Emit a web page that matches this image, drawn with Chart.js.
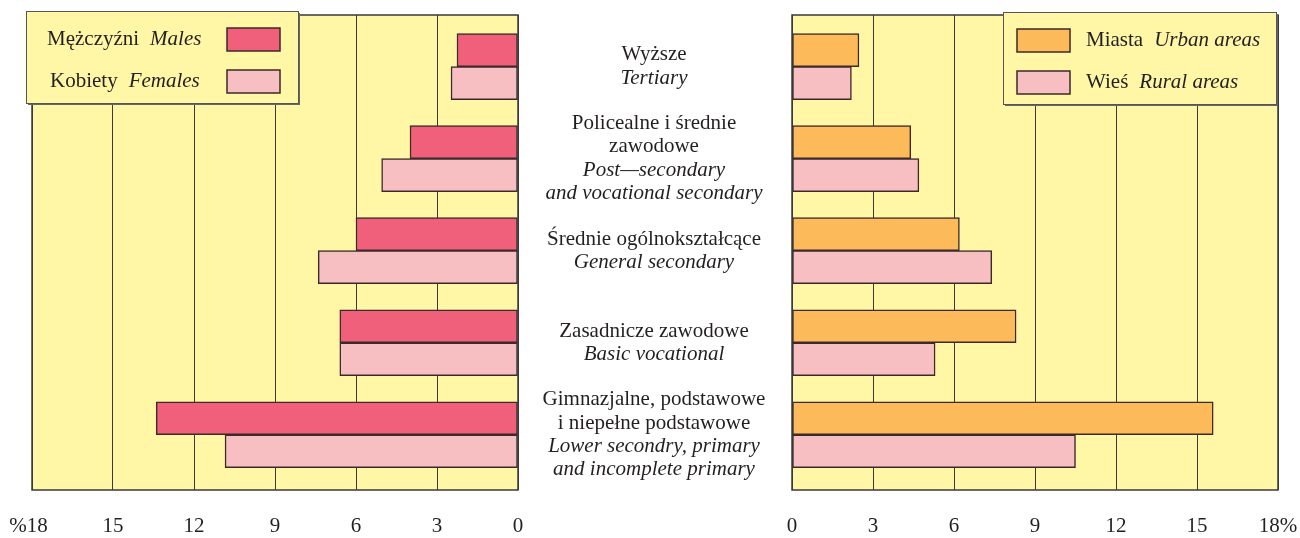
<!DOCTYPE html>
<html><head><meta charset="utf-8">
<script src="https://cdn.jsdelivr.net/npm/chart.js@4.4.0/dist/chart.umd.min.js"></script>
<style>
html,body{margin:0;padding:0;background:#fff;}
#wrap{position:relative;width:1300px;height:538px;overflow:hidden;}
#cl{position:absolute;left:0;top:0;}
#cr{position:absolute;left:770px;top:0;}
</style></head><body>
<div id="wrap">
<canvas id="cl" width="770" height="538"></canvas>
<canvas id="cr" width="530" height="538"></canvas>
</div>
<script>
// ---- data ----
const categoriesPL = [["Wyższe"], ["Policealne i średnie", "zawodowe"], ["Średnie ogólnokształcące"], ["Zasadnicze zawodowe"], ["Gimnazjalne, podstawowe", "i niepełne podstawowe"]];
const categoriesEN = [["Tertiary"], ["Post\u2014secondary", "and vocational secondary"], ["General secondary"], ["Basic vocational"], ["Lower secondry, primary", "and incomplete primary"]];
const males   = [2.26, 4.0, 6.0, 6.6, 13.4];
const females = [2.48, 5.05, 7.4, 6.6, 10.85];
const urban   = [2.48, 4.4, 6.2, 8.3, 15.6];
const rural   = [2.2, 4.7, 7.4, 5.3, 10.5];
const leftLegendPL = ["Mężczyźni", "Kobiety"];
const leftLegendEN = ["Males", "Females"];
const rightLegendPL = ["Miasta", "Wieś"];
const rightLegendEN = ["Urban areas", "Rural areas"];
const tickValues = [0, 3, 6, 9, 12, 15, 18];
const leftTickLabels  = ["0", "3", "6", "9", "12", "15", "%18\u2004"];
const rightTickLabels = ["0", "3", "6", "9", "12", "15", "18%"];

// ---- style ----
const BG = '#FFF6A6';
const TEXT = '#231f20';
const LINE = '#3a3a3a';
const COL_M = '#F0607A', COL_F = '#F8BFC2', COL_U = '#FDBA5A', COL_R = '#F8BFC2';
const SERIF = '"Liberation Serif", "Times New Roman", serif';
const FS = 21;

function pts(arr){ return arr.map((v,i)=>({x:v, y:i})); }

const areaPlugin = {
  id:'area',
  beforeDraw(chart){
    const a = chart.chartArea, c = chart.ctx;
    c.save(); c.fillStyle = BG; c.fillRect(a.left, a.top, a.right-a.left, a.bottom-a.top); c.restore();
  },
  afterDatasetsDraw(chart){
    const a = chart.chartArea, c = chart.ctx;
    c.save(); c.strokeStyle = LINE; c.lineWidth = 1.5;
    c.strokeRect(a.left, a.top, a.right-a.left, a.bottom-a.top); c.restore();
  }
};

function drawLegend(c, box, items){
  c.save();
  c.fillStyle = '#666';
  c.fillRect(box.x+2, box.y+2, box.w, box.h);
  c.fillStyle = BG;
  c.fillRect(box.x, box.y, box.w, box.h);
  c.strokeStyle = '#555'; c.lineWidth = 1;
  c.strokeRect(box.x+0.5, box.y+0.5, box.w, box.h);
  c.textBaseline = 'middle';
  items.forEach((it, k) => {
    const cy = box.y + 28 + k*42;
    c.fillStyle = it.color;
    c.fillRect(it.sx, cy-11, 53, 23);
    c.strokeStyle = '#3a2a2a'; c.lineWidth = 1.5;
    c.strokeRect(it.sx, cy-11, 53, 23);
    c.fillStyle = TEXT;
    c.font = FS + 'px ' + SERIF;
    c.textAlign = 'left';
    c.fillText(it.pl, it.tx, cy);
    const w = c.measureText(it.pl).width + 11;
    c.font = 'italic ' + FS + 'px ' + SERIF;
    c.fillText(it.en, it.tx + w, cy);
  });
  c.restore();
}

const leftExtras = {
  id:'leftExtras',
  afterDraw(chart){
    const c = chart.ctx, ys = chart.scales.y;
    c.save();
    c.fillStyle = TEXT; c.textAlign = 'center'; c.textBaseline = 'middle';
    const lh = 23.3, cx = 654;
    categoriesPL.forEach((pl, i) => {
      const lines = pl.map(t=>({t, it:false})).concat(categoriesEN[i].map(t=>({t, it:true})));
      const yc = ys.getPixelForValue(i);
      const y0 = yc - (lines.length-1)/2*lh;
      lines.forEach((ln, k) => {
        c.font = (ln.it ? 'italic ' : '') + FS + 'px ' + SERIF;
        c.fillText(ln.t, cx, y0 + k*lh);
      });
    });
    c.restore();
    drawLegend(c, {x:26, y:11, w:272, h:92}, [
      {pl:leftLegendPL[0], en:leftLegendEN[0], color:COL_M, sx:227, tx:47},
      {pl:leftLegendPL[1], en:leftLegendEN[1], color:COL_F, sx:227, tx:50}
    ]);
  }
};

const rightExtras = {
  id:'rightExtras',
  afterDraw(chart){
    drawLegend(chart.ctx, {x:233, y:12, w:273, h:92}, [
      {pl:rightLegendPL[0], en:rightLegendEN[0], color:COL_U, sx:247, tx:316},
      {pl:rightLegendPL[1], en:rightLegendEN[1], color:COL_R, sx:247, tx:316}
    ]);
  }
};

function makeOptions(reverseX, tickLabels, padding){
  return {
    indexAxis:'y',
    responsive:false,
    animation:false,
    layout:{padding},
    plugins:{legend:{display:false}, tooltip:{enabled:false}},
    scales:{
      x:{
        type:'linear', min:0, max:18, reverse:reverseX,
        afterBuildTicks(s){ s.ticks = tickValues.map(v=>({value:v})); },
        afterFit(s){ s.height = 46; s.paddingLeft = 0; s.paddingRight = 0; },
        grid:{color:LINE, lineWidth:1, drawTicks:false},
        border:{display:false},
        ticks:{
          padding:24, color:TEXT, font:{family:SERIF, size:FS},
          maxRotation:0, autoSkip:false,
          callback:(v)=>tickLabels[tickValues.indexOf(v)]
        }
      },
      y:{ type:'linear', min:-0.56, max:4.6, reverse:true, offset:false, display:false }
    }
  };
}

function ds(label, data, color){
  return {label, data:pts(data), backgroundColor:color, borderColor:'#3a2a2a', borderWidth:1.5,
          borderSkipped:false, barThickness:33, grouped:true};
}

new Chart(document.getElementById('cl'), {
  type:'bar',
  data:{datasets:[ds(leftLegendEN[0], males, COL_M), ds(leftLegendEN[1], females, COL_F)]},
  options:makeOptions(true, leftTickLabels, {top:15, bottom:2, left:32, right:252}),
  plugins:[areaPlugin, leftExtras]
});

new Chart(document.getElementById('cr'), {
  type:'bar',
  data:{datasets:[ds(rightLegendEN[0], urban, COL_U), ds(rightLegendEN[1], rural, COL_R)]},
  options:makeOptions(false, rightTickLabels, {top:15, bottom:2, left:22, right:22}),
  plugins:[areaPlugin, rightExtras]
});
</script>
</body></html>
